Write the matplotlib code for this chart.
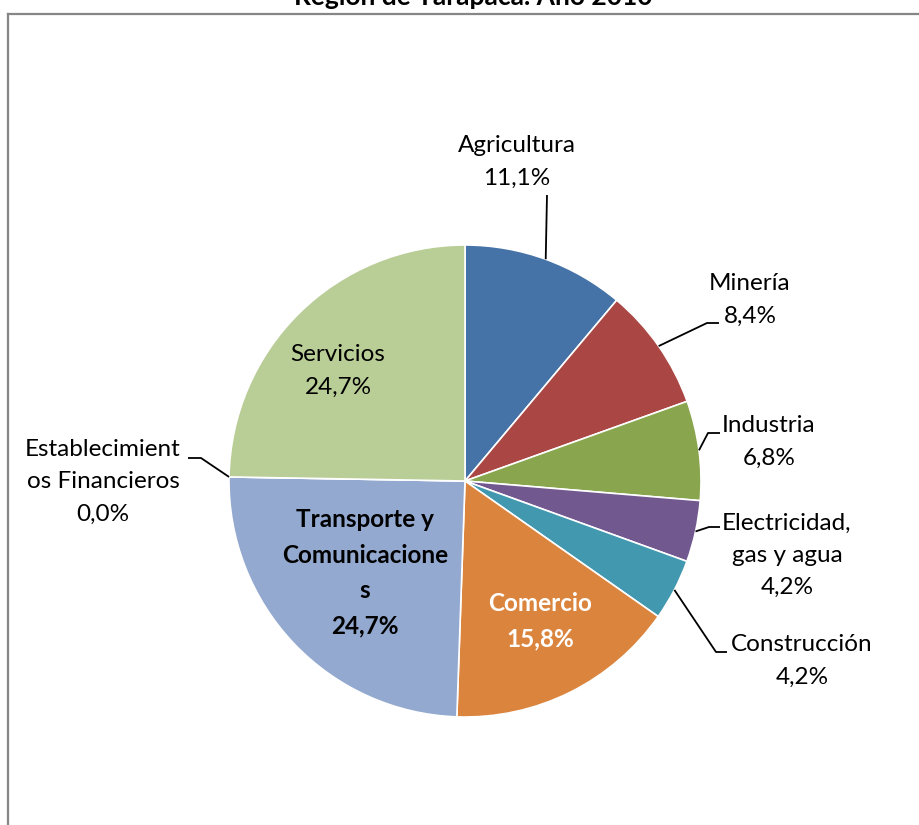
import numpy as np
import matplotlib.pyplot as plt
from matplotlib.lines import Line2D

# Datos del grafico (porcentaje por sector)
sectores = ['Agricultura', 'Minería', 'Industria', 'Electricidad,\ngas y agua',
            'Construcción', 'Comercio', 'Transporte y\nComunicacione\ns',
            'Establecimient\nos Financieros', 'Servicios']
valores = [11.1, 8.4, 6.8, 4.2, 4.2, 15.8, 24.7, 0.0, 24.7]
colores = ['#4572A7', '#AA4643', '#89A54E', '#71588F', '#4198AF',
           '#DB843D', '#93A9CF', '#D19392', '#B9CD96']

titulo = 'Región de Tarapacá. Año 2010'

W, H = 920, 825
CX, CY, R = 465, 481, 236  # centro y radio del pie en pixeles
FS = 17.5
LS = 1.65

plt.rcParams['font.family'] = ['Lato', 'DejaVu Sans']

fig = plt.figure(figsize=(W / 100, H / 100), dpi=100)
ax = fig.add_axes([0, 0, 1, 1])


def px(x, y):
    # pixel -> coordenadas de datos (radio 1)
    return (x - CX) / R, (CY - y) / R


wedges, _ = ax.pie(valores, colors=colores, startangle=90, counterclock=False,
                   radius=1, wedgeprops=dict(edgecolor='white', linewidth=1.2))
ax.set_xlim(-CX / R, (W - CX) / R)
ax.set_ylim(-(H - CY) / R, CY / R)
ax.set_aspect('equal')
ax.axis('off')


def etiqueta(i):
    v = valores[i]
    return sectores[i] + '\n' + f'{v:.1f}'.replace('.', ',') + '%'


def borde(i):
    w = wedges[i]
    ang = np.deg2rad((w.theta1 + w.theta2) / 2)
    return np.cos(ang), np.sin(ang)


# posiciones de las etiquetas (pixeles) y codo de la linea guia
externas = {
    0: ((517, 162), [(547, 195)]),
    1: ((750, 300), [(707, 323), (719, 323)]),
    2: ((769, 442), [(708, 433), (720, 433)]),
    3: ((787, 555), [(709, 527), (720, 527)]),
    4: ((802, 661), [(716, 652), (727, 652)]),
    7: ((103, 482), [(201, 458), (188, 458)]),
}
for i, (pos, codo) in externas.items():
    ax.text(*px(*pos), etiqueta(i), ha='center', va='center', fontsize=FS,
            linespacing=LS, color='black')
    x0, y0 = borde(i)
    xs = [x0] + [px(*p)[0] for p in codo]
    ys = [y0] + [px(*p)[1] for p in codo]
    ax.plot(xs, ys, color='black', lw=1.3, solid_capstyle='butt')

# etiquetas internas
ax.text(*px(338, 371), etiqueta(8), ha='center', va='center', fontsize=FS,
        linespacing=LS, color='black')
ax.text(*px(365, 573), etiqueta(6), ha='center', va='center', fontsize=FS,
        linespacing=LS, color='black', fontweight='bold')
ax.text(*px(540, 621), etiqueta(5), ha='center', va='center', fontsize=FS,
        linespacing=LS, color='white', fontweight='bold')

# titulo (cortado arriba) y marco del grafico
fig.text(473 / W, 1 - 5 / H, titulo, ha='center', va='baseline',
         fontsize=19, fontweight='bold')
fig.add_artist(Line2D([8 / W, 1], [1 - 14 / H, 1 - 14 / H], color='#868686', lw=1.6))
fig.add_artist(Line2D([8 / W, 8 / W], [1 - 14 / H, 0], color='#868686', lw=1.6))

fig.savefig('out.png', dpi=100, facecolor='white')
